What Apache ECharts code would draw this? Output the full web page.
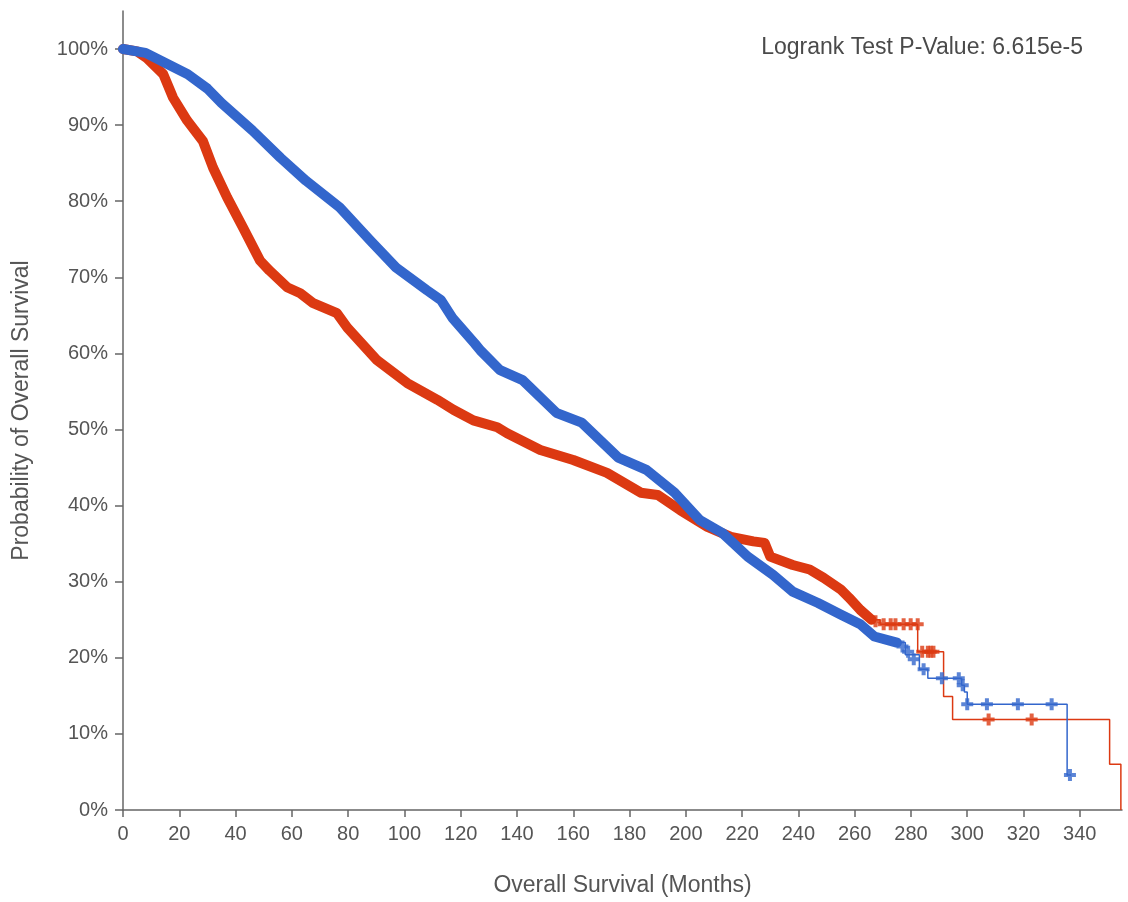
<!DOCTYPE html>
<html>
<head>
<meta charset="utf-8">
<script src="https://cdn.jsdelivr.net/npm/echarts@6/dist/echarts.min.js"></script>
<style>
html,body{margin:0;padding:0;background:#fff;}
#chart{width:1128px;height:902px;}
</style>
</head>
<body>
<div id="chart"></div>
<script>
// ---- Data (months, survival %) ----
// Blue group: dense part of the curve (heavily censored band)
const blueTimes = [0, 8, 17, 23, 30, 35, 46, 56, 65, 77, 88, 97, 108, 113, 117, 125, 127, 134, 142, 154, 163, 176, 186, 196, 205, 213, 222, 231, 238, 247, 255, 262, 267, 275];
const blueSurv  = [100, 99.5, 97.8, 96.7, 94.8, 92.9, 89.3, 85.7, 82.7, 79.2, 74.8, 71.3, 68.3, 67.0, 64.7, 61.3, 60.4, 57.8, 56.5, 52.2, 50.9, 46.3, 44.7, 41.7, 38.1, 36.4, 33.3, 30.9, 28.7, 27.2, 25.7, 24.4, 22.8, 22.0];
// Blue group: step tail
const blueTailTimes = [275, 278, 283, 286, 298, 299, 300, 335.5, 337];
const blueTailSurv  = [22.0, 20.4, 18.5, 17.3, 16.4, 15.5, 13.9, 4.6, 4.6];
// Blue censor marks in the tail
const blueCensorTimes = [277, 279, 281, 284.5, 291, 297, 298.4, 300, 307, 318, 330, 336.5];
const blueCensorSurv  = [21.5, 20.8, 19.8, 18.5, 17.3, 17.3, 16.4, 13.9, 13.9, 13.9, 13.9, 4.6];

// Red group: dense part
const redTimes = [0, 5, 8.5, 14.3, 17.8, 22.8, 28.4, 32, 37, 42.7, 48.7, 52, 58.3, 63, 67.6, 76, 79.7, 90.3, 101, 111.7, 117.4, 124.5, 133, 136.5, 148.3, 160, 172, 184, 190, 198, 207.7, 216, 224, 228, 230, 238, 244, 249, 255, 258, 262, 266];
const redSurv  = [100, 99.7, 98.8, 96.7, 93.6, 90.6, 87.9, 84.4, 80.5, 76.5, 72.2, 70.9, 68.7, 67.9, 66.6, 65.3, 63.4, 59.1, 56.1, 53.9, 52.6, 51.2, 50.3, 49.5, 47.3, 46.0, 44.3, 41.7, 41.4, 39.4, 37.2, 35.9, 35.3, 35.1, 33.3, 32.2, 31.6, 30.5, 29.0, 27.9, 26.3, 25.0];
// Red group: step tail
const redTailTimes = [266, 269, 282.4, 291.6, 294.8, 350.6, 354.6];
const redTailSurv  = [25.0, 24.4, 20.8, 14.9, 11.9, 6.0, 0];
// Red censor marks in the tail
const redCensorTimes = [267.4, 270.3, 272.8, 274.5, 277.4, 279.9, 282.4, 284, 286, 287, 288, 307.6, 322.9];
const redCensorSurv  = [24.8, 24.4, 24.4, 24.4, 24.4, 24.4, 24.4, 20.8, 20.8, 20.8, 20.8, 11.9, 11.9];

const xTicks = [0,20,40,60,80,100,120,140,160,180,200,220,240,260,280,300,320,340];
const yTicks = [0,10,20,30,40,50,60,70,80,90,100];
const pValueText = 'Logrank Test P-Value: 6.615e-5';

const RED = '#dc3912';
const BLUE = '#3366cc';
const PLUS = 'path://M4,0H8V4H12V8H8V12H4V8H0V4H4Z';

const zip = (a, b) => a.map((v, i) => [v, b[i]]);

const chart = echarts.init(document.getElementById('chart'), null, {renderer: 'canvas'});
const axisColor = '#666';
const textColor = '#555';
const fontFamily = 'Liberation Sans, Arial, sans-serif';

chart.setOption({
  animation: false,
  backgroundColor: '#fff',
  grid: {left: 123, right: 6, top: 11, bottom: 91, containLabel: false},
  title: {
    text: pValueText,
    right: 40, top: 31,
    textStyle: {fontSize: 23, fontWeight: 'normal', color: '#4a4a4a', fontFamily: fontFamily}
  },
  xAxis: {
    type: 'value', min: 0, max: 355, interval: 20,
    name: 'Overall Survival (Months)', nameLocation: 'middle', nameGap: 64,
    nameTextStyle: {fontSize: 23, color: textColor, fontFamily: fontFamily},
    axisLine: {show: true, lineStyle: {color: axisColor, width: 1.5}},
    axisTick: {show: true, length: 7, lineStyle: {color: axisColor, width: 1.5}},
    axisLabel: {
      fontSize: 20, color: textColor, fontFamily: fontFamily, margin: 14,
      showMaxLabel: false,
      formatter: v => xTicks.indexOf(v) >= 0 ? String(v) : ''
    },
    splitLine: {show: false}
  },
  yAxis: {
    type: 'value', min: 0, max: 105, interval: 10,
    name: 'Probability of Overall Survival', nameLocation: 'middle', nameGap: 90,
    nameTextStyle: {fontSize: 23, color: textColor, fontFamily: fontFamily},
    axisLine: {show: true, lineStyle: {color: axisColor, width: 1.5}},
    axisTick: {show: true, length: 8, lineStyle: {color: axisColor, width: 1.5}},
    axisLabel: {
      fontSize: 20, color: textColor, fontFamily: fontFamily, margin: 15,
      showMaxLabel: false,
      formatter: v => yTicks.indexOf(v) >= 0 ? v + '%' : ''
    },
    splitLine: {show: false}
  },
  series: [
    {type: 'line', data: zip(redTailTimes, redTailSurv), step: 'end', showSymbol: false,
     lineStyle: {color: RED, width: 1.5}, z: 2},
    {type: 'line', data: zip(redTimes, redSurv), showSymbol: false,
     lineStyle: {color: RED, width: 10, cap: 'round', join: 'round'}, z: 3},
    {type: 'scatter', data: zip(redCensorTimes, redCensorSurv), symbol: PLUS, symbolSize: 12,
     itemStyle: {color: RED}, z: 4},
    {type: 'line', data: zip(blueTailTimes, blueTailSurv), step: 'end', showSymbol: false,
     lineStyle: {color: BLUE, width: 1.5}, z: 5},
    {type: 'line', data: zip(blueTimes, blueSurv), showSymbol: false,
     lineStyle: {color: BLUE, width: 10, cap: 'round', join: 'round'}, z: 6},
    {type: 'scatter', data: zip(blueCensorTimes, blueCensorSurv), symbol: PLUS, symbolSize: 12,
     itemStyle: {color: BLUE}, z: 7}
  ]
});
</script>
</body>
</html>
